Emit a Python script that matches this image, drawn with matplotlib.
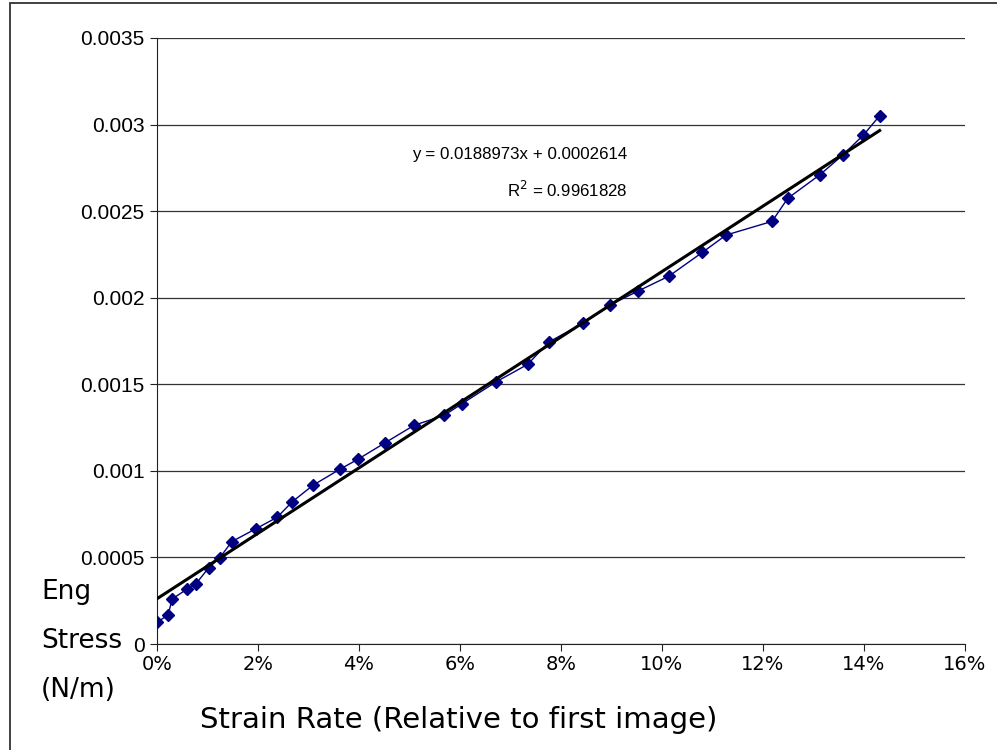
import numpy as np
import matplotlib.pyplot as plt
from matplotlib.ticker import PercentFormatter, MultipleLocator
from matplotlib.patches import Rectangle

# strain (fraction of first image) and engineering stress (N/m)
strain = [0.0000, 0.0022, 0.0030, 0.0060, 0.0077, 0.0102, 0.0124, 0.0148,
          0.0196, 0.0238, 0.0268, 0.0309, 0.0362, 0.0398, 0.0451, 0.0509,
          0.0569, 0.0604, 0.0672, 0.0734, 0.0776, 0.0843, 0.0897, 0.0953,
          0.1014, 0.1080, 0.1127, 0.1218, 0.1249, 0.1313, 0.1358, 0.1399,
          0.1431]
stress = [0.000125, 0.000168, 0.000260, 0.000318, 0.000347, 0.000439, 0.000497,
          0.000591, 0.000666, 0.000732, 0.000822, 0.000917, 0.001009, 0.001067,
          0.001161, 0.001263, 0.001321, 0.001388, 0.001515, 0.001615, 0.001744,
          0.001852, 0.001958, 0.002039, 0.002125, 0.002262, 0.002362, 0.002441,
          0.002574, 0.002711, 0.002824, 0.002940, 0.003051]

# linear trendline reported on the chart
slope = 0.0188973
intercept = 0.0002614
r_squared = 0.9961828

fig = plt.figure(figsize=(9.97, 7.5), dpi=100)
ax = fig.add_axes([157 / 997, 106 / 750, 808 / 997, 606 / 750])

# outer chart frame
fig.patches.append(Rectangle((10 / 997, -0.1), 1.2, 0.1 + 747 / 750,
                             transform=fig.transFigure, fill=False,
                             edgecolor='#333333', linewidth=1.3))

ax.plot(strain, stress, color='#000080', linewidth=1.0, marker='D',
        markersize=6.5, markerfacecolor='#000080', markeredgecolor='#000080',
        zorder=3)

xfit = np.array([0, max(strain)])
ax.plot(xfit, slope * xfit + intercept, color='black', linewidth=2.2, zorder=4)

ax.set_xlim(0, 0.16)
ax.set_ylim(0, 0.0035)
ax.xaxis.set_major_locator(MultipleLocator(0.02))
ax.xaxis.set_major_formatter(PercentFormatter(xmax=1, decimals=0))
ax.set_yticks(np.arange(0, 0.0036, 0.0005))
ax.set_yticklabels(['0', '0.0005', '0.001', '0.0015', '0.002', '0.0025',
                    '0.003', '0.0035'])

ax.grid(axis='y', color='#333333', linewidth=0.9)
ax.set_axisbelow(True)
for side in ['top', 'right']:
    ax.spines[side].set_visible(False)
ax.spines['left'].set_color('#222222')
ax.spines['bottom'].set_color('#222222')
ax.tick_params(direction='out', length=5, color='#222222')

for lbl in ax.get_yticklabels():
    lbl.set_fontfamily('Liberation Sans')
    lbl.set_fontsize(15)
for lbl in ax.get_xticklabels():
    lbl.set_fontfamily('DejaVu Sans')
    lbl.set_fontsize(14)
ax.tick_params(axis='x', pad=3)
ax.tick_params(axis='y', pad=4)

# trendline equation, right-aligned pair of lines
fig.text(627 / 997, 1 - 155 / 750, f'y = {slope:.7f}x + {intercept:.7f}',
         ha='right', va='center', fontsize=12.2, family='Liberation Sans')
fig.text(628 / 997, 1 - 190 / 750, f'R$^2$ = {r_squared:.7f}',
         ha='right', va='center', fontsize=12.2, family='Liberation Sans')

fig.text(200 / 997, 1 - 720 / 750, 'Strain Rate (Relative to first image)',
         fontsize=21, family='DejaVu Sans', ha='left', va='center')
for label, ypx in [('Eng', 592), ('Stress', 641), ('(N/m)', 690)]:
    fig.text(41 / 997, 1 - ypx / 750, label, fontsize=19,
             family='DejaVu Sans', ha='left', va='center')

fig.savefig('out.png', dpi=100)
